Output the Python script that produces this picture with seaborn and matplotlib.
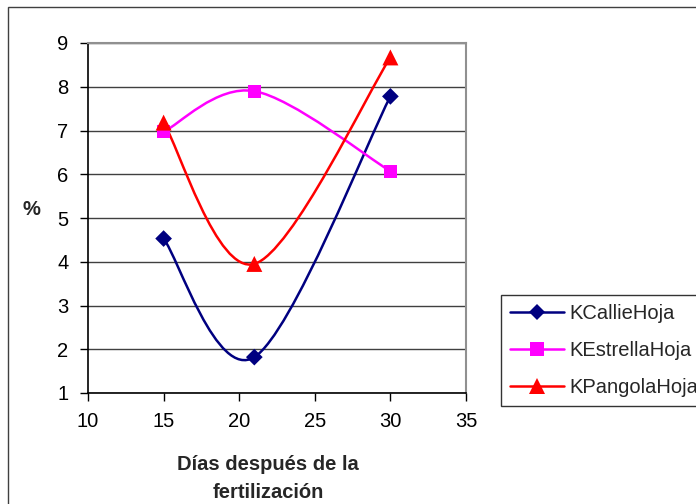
import numpy as np
import pandas as pd
import seaborn as sns
import matplotlib
matplotlib.use("Agg")
import matplotlib.pyplot as plt
from matplotlib.path import Path
from matplotlib.patches import PathPatch, Rectangle
from matplotlib.lines import Line2D

# Potassium content in leaves (%) by days after fertilization
dias = [15, 21, 30]
k_callie = [4.53, 1.82, 7.78]
k_estrella = [6.97, 7.90, 6.07]
k_pangola = [7.18, 3.95, 8.67]

series_names = ["KCallieHoja", "KEstrellaHoja", "KPangolaHoja"]
series_values = [k_callie, k_estrella, k_pangola]
colors = ["#000080", "#FF00FF", "#FF0000"]
markers = ["D", "s", "^"]
marker_sizes = [8.5, 9.5, 11.5]

x_ticks = [10, 15, 20, 25, 30, 35]
y_ticks = [1, 2, 3, 4, 5, 6, 7, 8, 9]

sns.set_theme(style="white")
plt.rcParams["font.family"] = ["Liberation Sans", "DejaVu Sans"]

df = pd.DataFrame({
    "dias": dias * 3,
    "valor": k_callie + k_estrella + k_pangola,
    "serie": [n for n in series_names for _ in dias],
})

fig = plt.figure(figsize=(6.96, 5.04), dpi=100)
fig.patch.set_facecolor("white")
W, H = 696, 504
ax = fig.add_axes([88 / W, 1 - 393 / H, (466 - 88) / W, (393 - 43) / H])

# outer chart frame
fig.patches.append(Rectangle((8 / W, -0.1), 1.2, 1 - 7 / H + 0.1,
                             transform=fig.transFigure, fill=False,
                             edgecolor="#404040", linewidth=1.0, zorder=0))


def smooth_path(xs, ys):
    """Cardinal (Catmull-Rom style) Bezier curve through the points."""
    pts = np.column_stack([xs, ys]).astype(float)
    n = len(pts)
    verts = [pts[0]]
    codes = [Path.MOVETO]
    for i in range(n - 1):
        p_prev = pts[i - 1] if i > 0 else pts[i]
        p0, p1 = pts[i], pts[i + 1]
        p_next = pts[i + 2] if i + 2 < n else pts[i + 1]
        c1 = p0 + (p1 - p_prev) / 6.0
        c2 = p1 - (p_next - p0) / 6.0
        verts += [c1, c2, p1]
        codes += [Path.CURVE4] * 3
    return Path(verts, codes)


for name, vals, col in zip(series_names, series_values, colors):
    ax.add_patch(PathPatch(smooth_path(dias, vals), fill=False,
                           edgecolor=col, linewidth=1.8, zorder=3))

sns.scatterplot(data=df, x="dias", y="valor", hue="serie", style="serie",
                hue_order=series_names, style_order=series_names,
                palette=dict(zip(series_names, colors)),
                markers=dict(zip(series_names, markers)),
                size="serie", sizes=dict(zip(series_names, [s ** 2 for s in marker_sizes])),
                edgecolor="none", linewidth=0, legend=False, ax=ax, zorder=4)

ax.set_xlim(10, 35)
ax.set_ylim(1, 9)
ax.set_xticks(x_ticks)
ax.set_yticks(y_ticks)
ax.set_xlabel("")
ax.set_ylabel("")
ax.tick_params(axis="both", which="major", direction="out", length=6, width=1,
               color="black", labelsize=14.5, labelcolor="black")
ax.tick_params(axis="y", pad=8, left=True)
ax.tick_params(axis="x", pad=8, bottom=True)

ax.yaxis.grid(True, color="#404040", linewidth=1.0)
ax.xaxis.grid(False)
ax.set_axisbelow(True)
for side in ["left", "bottom"]:
    ax.spines[side].set_color("black")
    ax.spines[side].set_linewidth(1.2)
for side in ["top", "right"]:
    ax.spines[side].set_visible(True)
    ax.spines[side].set_color("#909090")
    ax.spines[side].set_linewidth(1.5)

fig.text(31 / W, 1 - 209 / H, "%", fontsize=14.5, fontweight="bold",
         ha="center", va="center")
fig.text(268 / W, 1 - 465 / H, "Días después de la", fontsize=14.5,
         fontweight="bold", ha="center", va="center")
fig.text(268 / W, 1 - 493 / H, "fertilización", fontsize=14.5,
         fontweight="bold", ha="center", va="center")

handles = [Line2D([0], [0], color=c, linewidth=1.8, marker=m,
                  markersize=s, markeredgewidth=0)
           for c, m, s in zip(colors, markers, marker_sizes)]
leg = fig.legend(handles, series_names, loc="upper left",
                 bbox_to_anchor=(501 / W, 1 - 295 / H), borderaxespad=0,
                 fontsize=14.5, handlelength=2.7, handletextpad=0.25,
                 labelspacing=0.9, borderpad=0.45, frameon=True,
                 fancybox=False, edgecolor="black")
leg.get_frame().set_linewidth(1.0)

fig.savefig("out.png", dpi=100)
